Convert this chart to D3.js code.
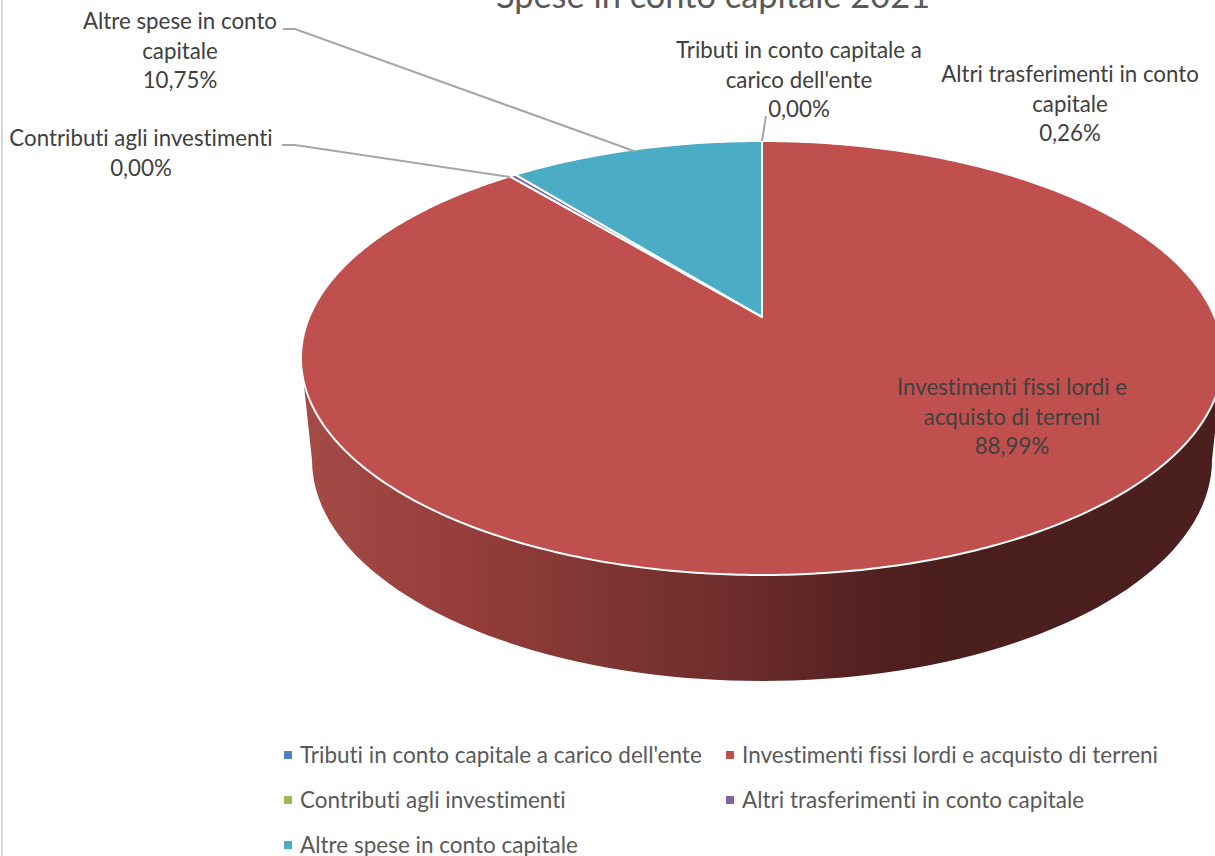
<!DOCTYPE html>
<html><head><meta charset="utf-8"><style>html,body{margin:0;padding:0;background:#fff;overflow:hidden}svg{display:block}text{font-family:Lato,"Noto Sans",sans-serif;font-variant-ligatures:none}</style>
<script src="https://cdn.jsdelivr.net/npm/d3@7"></script></head><body><script>
const title = "Spese in conto capitale 2021";
const categories = ["Tributi in conto capitale a carico dell'ente","Investimenti fissi lordi e acquisto di terreni","Contributi agli investimenti","Altri trasferimenti in conto capitale","Altre spese in conto capitale"];
const values = [0.00,88.99,0.00,0.26,10.75];
const valueLabels = ["0,00%","88,99%","0,00%","0,26%","10,75%"];
const colors = ["#4f81bd","#c0504d","#9bbb59","#8064a2","#4bacc6"];
const labelLines = [["Tributi in conto capitale a","carico dell'ente"],["Investimenti fissi lordi e","acquisto di terreni"],["Contributi agli investimenti"],["Altri trasferimenti in conto","capitale"],["Altre spese in conto","capitale"]];

(function(){
const W=1215,H=856;
const svg=d3.select("body").append("svg").attr("width",W).attr("height",H);
const defs=svg.append("defs");
const grad=defs.append("linearGradient").attr("id","side").attr("gradientUnits","userSpaceOnUse").attr("x1",300).attr("x2",1216).attr("y1",0).attr("y2",0);
[[0,"#a64b47"],[0.2,"#923c39"],[0.33,"#7f3633"],[0.49,"#6b2b2a"],[0.64,"#4f201f"],[0.7,"#4b1f1e"],[1,"#4b1f1e"]].forEach(s=>grad.append("stop").attr("offset",s[0]).attr("stop-color",s[1]));

svg.append("rect").attr("x",1).attr("y",0).attr("width",2).attr("height",H).attr("fill","#d9d9d9");

const face={cx:762,cy:358,rx:461,ry:217}, t=-0.189;
const bot={cx:762,cy:460,rx:450,ry:221};
const angle=d3.scaleLinear().domain([0,d3.sum(values)]).range([0,2*Math.PI]);
function proj(a){const u=Math.sin(a),v=-Math.cos(a),d=1+t*v;
  return [face.cx+face.rx*u*Math.sqrt(1-t*t)/d, face.cy+face.ry*(v+t)/d];}
const apex=[face.cx,face.cy+face.ry*t];
const cum=d3.cumsum(values);
const slices=values.map((v,i)=>({i,a0:angle(cum[i]-v),a1:angle(cum[i])}));
const line=d3.line();
function arcPts(a0,a1){const n=Math.max(2,Math.ceil((a1-a0)*90));return d3.range(n+1).map(k=>proj(a0+(a1-a0)*k/n));}

// side wall of the red slice
const wall=[[face.cx-face.rx,face.cy]];
d3.range(-90,91,2).forEach(d=>{const r=d*Math.PI/180;wall.push([bot.cx+bot.rx*Math.sin(r),bot.cy+bot.ry*Math.cos(r)]);});
wall.push([face.cx+face.rx,face.cy]);
svg.append("path").attr("d",line(wall)+"Z").attr("fill","url(#side)");

// top slices
svg.append("g").selectAll("path").data(slices.filter(s=>s.a1>s.a0)).join("path")
 .attr("d",s=>line([apex,...arcPts(s.a0,s.a1)])+"Z")
 .attr("fill",s=>colors[s.i]).attr("stroke","#fff").attr("stroke-width",2).attr("stroke-linejoin","round");

// leader lines
const lead=[[ [283,29],[295,29],[634,151] ],[ [282,145],[295,145],[510,177] ],[ [766,116],[762,141] ]];
const lg=svg.append("g").attr("fill","none").attr("stroke","#a6a6a6").attr("stroke-width",2);
lead.forEach(p=>lg.append("path").attr("d",line(p)));

// data labels
const labelPos=[{i:0,x:799,y:58},{i:1,x:1012,y:395},{i:2,x:141,y:146},{i:3,x:1070,y:82},{i:4,x:180,y:29}];
const dl=svg.append("g").attr("fill","#404040").attr("font-size",22.3).attr("text-anchor","middle");
labelPos.forEach(p=>{[...labelLines[p.i],valueLabels[p.i]].forEach((s,k)=>dl.append("text").attr("x",p.x).attr("y",p.y+k*29.5).text(s));});

svg.append("text").attr("x",713).attr("y",8).attr("text-anchor","middle").attr("font-size",34.4).attr("fill","#595959").text(title);

// legend
const legPos=[[284,755],[726,755],[284,800],[726,800],[284,845]];
const lg2=svg.append("g");
categories.forEach((c,i)=>{const [x,y]=legPos[i];
 lg2.append("rect").attr("x",x).attr("y",y-4).attr("width",8).attr("height",8).attr("fill",colors[i]);
 lg2.append("text").attr("x",x+16).attr("y",y+7.5).attr("font-size",22.5).attr("fill","#595959").text(c);});
})();
</script></body></html>
